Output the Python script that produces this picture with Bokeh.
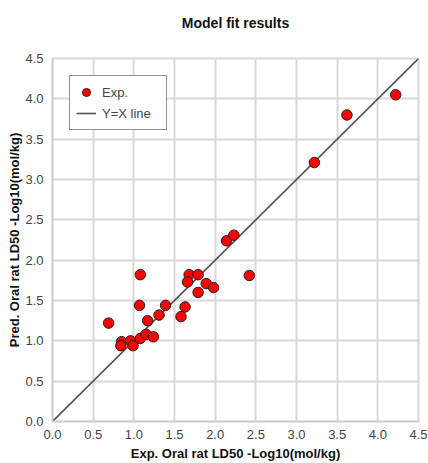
from bokeh.plotting import figure
from bokeh.models import Range1d, FixedTicker, NumeralTickFormatter, Legend, LegendItem, Title
from bokeh.embed import file_html
from bokeh.resources import INLINE

exp_vals = [0.69, 0.85, 0.84, 0.96, 0.99, 1.08, 1.15, 1.24, 1.17, 1.31, 1.07, 1.39, 1.58, 1.63,
            1.08, 1.68, 1.79, 1.66, 1.89, 1.98, 1.79, 2.42, 2.14, 2.23, 3.22, 3.62, 4.22]
pred_vals = [1.22, 0.99, 0.94, 1.00, 0.94, 1.03, 1.08, 1.05, 1.25, 1.32, 1.44, 1.44, 1.30, 1.42,
             1.82, 1.82, 1.82, 1.73, 1.71, 1.66, 1.60, 1.81, 2.24, 2.31, 3.21, 3.80, 4.05]
line_x = [0.0, 4.5]
line_y = [0.0, 4.5]
ticks = [0.0, 0.5, 1.0, 1.5, 2.0, 2.5, 3.0, 3.5, 4.0, 4.5]

FONT = "Liberation Sans"

p = figure(width=428, height=463, output_backend="svg", toolbar_location=None,
           x_range=Range1d(0, 4.5), y_range=Range1d(0, 4.5),
           title="Model fit results",
           min_border_left=52, min_border_right=10, min_border_top=0, min_border_bottom=39)

p.title.align = "center"
p.title.text_font = FONT
p.title.text_font_size = "14px"
p.title.text_font_style = "bold"
p.title.text_color = "#111111"
p.title.offset = 0
p.title.standoff = 25

spacer = Title(text=" ", text_font_size="1px", standoff=12)
p.add_layout(spacer, "above")

for ax in (p.xaxis[0], p.yaxis[0]):
    ax.ticker = FixedTicker(ticks=ticks)
    ax.formatter = NumeralTickFormatter(format="0.0")
    ax.major_label_text_font = FONT
    ax.major_label_text_font_size = "13px"
    ax.major_label_text_color = "#444444"
    ax.major_tick_line_color = None
    ax.minor_tick_line_color = None
    ax.axis_line_color = "#cccccc"
    ax.axis_line_width = 1.5
    ax.axis_label_text_font = FONT
    ax.axis_label_text_font_size = "13px"
    ax.axis_label_text_font_style = "bold"
    ax.axis_label_text_color = "#111111"

p.xaxis.axis_label = "Exp. Oral rat LD50 -Log10(mol/kg)"
p.yaxis.axis_label = "Pred. Oral rat LD50 -Log10(mol/kg)"
p.xaxis.major_label_standoff = 2
p.yaxis.major_label_standoff = 3
p.xaxis.axis_label_standoff = 4
p.yaxis.axis_label_standoff = 0

p.grid.grid_line_color = "#d8d8d8"
p.grid.grid_line_width = 2
p.outline_line_color = "#d8d8d8"
p.outline_line_width = 2

ln = p.line(line_x, line_y, line_color="#555555", line_width=1.6)
sc = p.scatter(exp_vals, pred_vals, size=10.5, fill_color="#ff0000", line_color="#222222", line_width=1)

legend = Legend(items=[LegendItem(label="Exp.", renderers=[sc]),
                       LegendItem(label="Y=X line", renderers=[ln])],
                location="top_left")
legend.margin = 17
legend.padding = 6
legend.spacing = 1
legend.border_line_color = "#222222"
legend.border_line_width = 1
legend.background_fill_color = "white"
legend.background_fill_alpha = 1
legend.label_text_font = FONT
legend.label_text_font_size = "13px"
legend.label_text_color = "#444444"
legend.glyph_width = 20
legend.glyph_height = 20
legend.label_height = 20
legend.label_width = 58
legend.label_standoff = 6
p.add_layout(legend, "center")

open("out.html", "w").write(file_html(p, INLINE))
